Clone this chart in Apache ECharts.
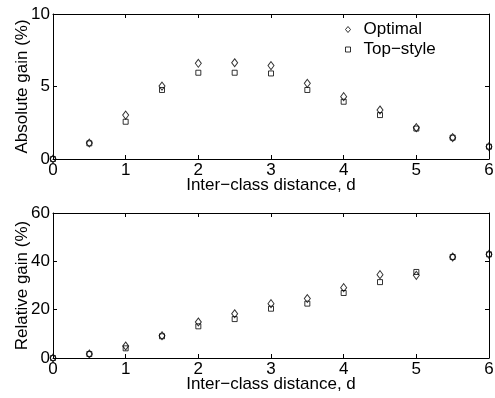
<!DOCTYPE html>
<html><head><meta charset="utf-8">
<script src="https://cdn.jsdelivr.net/npm/echarts@6/dist/echarts.min.js"></script>
<style>html,body{margin:0;padding:0;background:#fff}#c{width:495px;height:398px}</style>
</head><body><div id="c"></div>
<script>
var distance = [0, 0.5, 1, 1.5, 2, 2.5, 3, 3.5, 4, 4.5, 5, 5.5, 6];
var absOptimal  = [0, 1.1, 3.03, 5.03, 6.6, 6.64, 6.44, 5.22, 4.3, 3.38, 2.16, 1.47, 0.85];
var absTopStyle = [0, 1.08, 2.57, 4.76, 5.95, 5.95, 5.9, 4.76, 3.95, 3.03, 2.1, 1.47, 0.85];
var relOptimal  = [0, 1.66, 4.97, 9.2, 14.9, 18.3, 22.5, 24.6, 29.1, 34.5, 34.2, 41.8, 42.9];
var relTopStyle = [0, 1.66, 4.0, 9.0, 13.1, 16.1, 20.4, 22.5, 26.9, 31.4, 35.6, 41.8, 42.9];
var seriesNames = ['Optimal', 'Top\u2212style'];
var xName = 'Inter\u2212class distance, d';
var yNames = ['Absolute gain (%)', 'Relative gain (%)'];

function pairs(ys){ return distance.map(function(x,i){ return [x, ys[i]]; }); }
var FONT = 'Liberation Sans';
var txt = {color:'#000', fontFamily: FONT, fontSize: 17};
function xAx(gi, pos){
  var main = pos === 'bottom';
  return {type:'value', gridIndex:gi, position:pos, min:0, max:6, interval:1,
    name: main ? xName : '', nameLocation:'middle', nameGap:18, nameMoveOverlap:false, nameTextStyle:txt,
    axisLine:{show:true, onZero:false, lineStyle:{color:'#000', width:1}},
    axisTick:{show:true, inside:true, length:4, lineStyle:{color:'#000'}},
    axisLabel:{show:main, margin:3, color:'#000', fontFamily:FONT, fontSize:17},
    splitLine:{show:false}};
}
function yAx(gi, pos, max, interval, name){
  var main = pos === 'left';
  return {type:'value', gridIndex:gi, position:pos, min:0, max:max, interval:interval,
    name: main ? name : '', nameLocation:'middle', nameGap:22, nameMoveOverlap:false, nameTextStyle:txt,
    axisLine:{show:true, onZero:false, lineStyle:{color:'#000', width:1}},
    axisTick:{show:true, inside:true, length:4, lineStyle:{color:'#000'}},
    axisLabel:{show:main, margin:3, color:'#000', fontFamily:FONT, fontSize:17},
    splitLine:{show:false}};
}
var markStyle = {color:'rgba(0,0,0,0)', borderColor:'#000', borderWidth:1};
function sc(name, gi, ys, sym, size){
  return {type:'scatter', name:name, xAxisIndex:gi*2, yAxisIndex:gi*2, data:pairs(ys),
    symbol:sym, symbolSize:size, itemStyle:markStyle, silent:true, animation:false};
}
var chart = echarts.init(document.getElementById('c'), null, {renderer:'canvas'});
chart.setOption({
  animation:false,
  backgroundColor:'#fff',
  grid:[{left:53, right:6, top:14, height:145, outerBoundsMode:'none', containLabel:false},
        {left:53, right:6, top:213, height:145, outerBoundsMode:'none', containLabel:false}],
  xAxis:[xAx(0,'bottom'), xAx(0,'top'), xAx(1,'bottom'), xAx(1,'top')],
  yAxis:[yAx(0,'left',10,5,yNames[0]), yAx(0,'right',10,5,''), yAx(1,'left',60,20,yNames[1]), yAx(1,'right',60,20,'')],
  legend:{orient:'vertical', left:340, top:16, itemWidth:5, itemHeight:6, itemGap:3,
    textStyle:{color:'#000', fontFamily:FONT, fontSize:17, padding:[0,0,0,8]},
    data:[{name:seriesNames[0], icon:'diamond'}, {name:seriesNames[1], icon:'path://M0,1H6V7H0Z'}],
    itemStyle:{color:'rgba(0,0,0,0)', borderColor:'#000', borderWidth:1}, selectedMode:false},
  series:[
    sc(seriesNames[0], 0, absOptimal, 'diamond', [6,8]),
    sc(seriesNames[1], 0, absTopStyle, 'rect', 5),
    sc(seriesNames[0], 1, relOptimal, 'diamond', [6,8]),
    sc(seriesNames[1], 1, relTopStyle, 'rect', 5)
  ]
});
</script></body></html>
